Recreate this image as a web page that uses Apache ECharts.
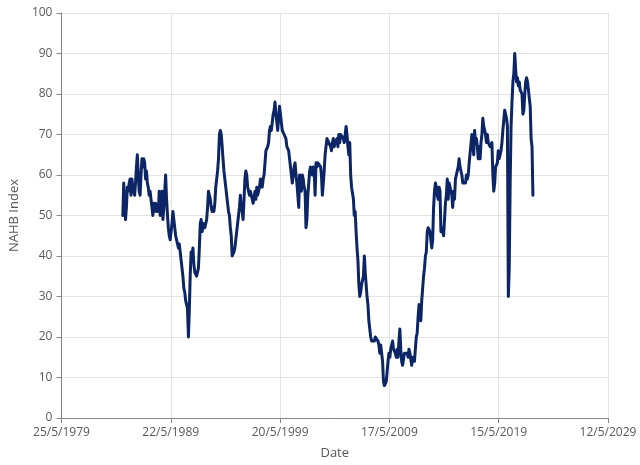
<!DOCTYPE html>
<html>
<head>
<meta charset="utf-8">
<script src="https://cdn.jsdelivr.net/npm/echarts@6/dist/echarts.min.js"></script>
<style>
html,body{margin:0;padding:0;background:#fff;}
#chart{width:640px;height:465px;}
</style>
</head>
<body>
<div id="chart"></div>
<script>
// Monthly NAHB index, starting January 1985
const firstYear = 1985;
const hmi1985to1994 = [
  50, 58, 53, 49, 52, 57, 56, 58, 59, 55, 59, 57,
  57, 55, 58, 62, 65, 60, 56, 55, 60, 64, 62, 64,
  63, 59, 61, 58, 57, 55, 56, 54, 52, 50, 53, 51,
  53, 51, 52, 51, 56, 50, 54, 56, 49, 52, 56, 60,
  54, 50, 47, 45, 44, 46, 48, 51, 49, 47, 45, 44,
  43, 42, 43, 41, 39, 37, 35, 32, 31, 29, 28, 27,
  20, 27, 35, 41, 40, 42, 38, 36, 36, 35, 36, 37,
  42, 48, 49, 46, 47, 48, 47, 48, 49, 52, 56, 55,
  54, 52, 51, 52, 51, 53, 57, 59, 61, 64, 70, 71,
  70, 67, 64, 61, 59, 57, 55, 53, 51, 50, 47, 45
];
const hmi1995to2004 = [
  40, 40, 41, 42, 44, 46, 48, 50, 52, 55, 52, 51,
  49, 54, 59, 61, 60, 57, 56, 55, 56, 55, 54, 53,
  53, 56, 54, 57, 55, 56, 57, 59, 58, 57, 59, 60,
  63, 66, 66, 67, 68, 71, 72, 71, 73, 75, 76, 78,
  75, 73, 71, 74, 77, 75, 73, 71, 71, 70, 70, 69,
  67, 67, 66, 64, 62, 60, 58, 60, 62, 63, 60, 58,
  55, 52, 60, 58, 56, 60, 59, 57, 56, 47, 49, 55,
  58, 61, 62, 61, 60, 62, 61, 55, 63, 62, 63, 63,
  63, 62, 60, 55, 58, 61, 65, 67, 69, 69, 68, 68,
  67, 66, 68, 69, 67, 68, 68, 69, 67, 70, 68, 70
];
const hmi2005to2014 = [
  70, 70, 69, 68, 70, 72, 70, 67, 65, 68, 60, 57,
  57, 54, 50, 51, 46, 42, 39, 33, 30, 31, 33, 33,
  35, 40, 36, 33, 30, 28, 24, 22, 20, 19, 19, 19,
  19, 20, 20, 20, 19, 18, 16, 18, 18, 14, 9, 8,
  8, 9, 9, 14, 16, 15, 17, 18, 19, 17, 17, 16,
  15, 17, 15, 19, 22, 17, 14, 13, 13, 16, 16, 16,
  16, 15, 17, 16, 16, 13, 15, 15, 14, 17, 20, 21,
  25, 28, 28, 24, 29, 29, 35, 37, 40, 41, 46, 47,
  47, 46, 44, 42, 44, 52, 56, 58, 57, 55, 54, 57,
  56, 46, 47, 46, 45, 49, 53, 55, 59, 54, 58, 57
];
const hmi2015to2022 = [
  57, 55, 52, 56, 54, 59, 60, 61, 62, 64, 62, 61,
  60, 58, 58, 58, 58, 60, 59, 60, 63, 63, 63, 70,
  67, 65, 71, 68, 69, 67, 64, 67, 64, 68, 70, 74,
  72, 71, 70, 68, 70, 68, 68, 67, 67, 68, 60, 56,
  58, 62, 62, 63, 66, 64, 65, 66, 68, 71, 71, 76,
  75, 74, 72, 30, 37, 58, 72, 78, 83, 85, 90, 86,
  83, 84, 82, 83, 81, 81, 80, 75, 76, 80, 83, 84,
  83, 81, 79, 77, 69, 67, 55
];
// x axis: Excel-style date axis, days counted from 25/5/1979, major unit 3650 days
const axisStart = Date.UTC(1979, 4, 25);
const axisSpanDays = 18250;
const axisStepDays = 3650;
const yTicks = [0, 100, 10]; // min, max, step

const values = [].concat(hmi1985to1994, hmi1995to2004, hmi2005to2014, hmi2015to2022);
const DAY = 86400000;
const points = values.map((v, i) => {
  const d = Date.UTC(firstYear + Math.floor(i / 12), i % 12, 1);
  return [(d - axisStart) / DAY, v];
});
function fmt(v) {
  const d = new Date(axisStart + Math.round(v) * DAY);
  return d.getUTCDate() + '/' + (d.getUTCMonth() + 1) + '/' + d.getUTCFullYear();
}

const FONT = 'Open Sans';
const TXT = '#595959';
const chart = echarts.init(document.getElementById('chart'), null, {renderer: 'canvas'});
chart.setOption({
  animation: false,
  grid: {left: 61, right: 32, top: 13, bottom: 46, containLabel: false},
  xAxis: {
    type: 'value', min: 0, max: axisSpanDays, interval: axisStepDays,
    name: 'Date', nameLocation: 'middle', nameGap: 29,
    nameTextStyle: {color: TXT, fontFamily: FONT, fontSize: 13},
    axisLine: {show: true, lineStyle: {color: '#868686', width: 1}},
    axisTick: {show: true, length: 5, lineStyle: {color: '#868686'}},
    axisLabel: {color: TXT, fontFamily: FONT, fontSize: 12, margin: 9, formatter: fmt},
    splitLine: {show: true, lineStyle: {color: '#e3e3e3', width: 1}}
  },
  yAxis: {
    type: 'value', min: yTicks[0], max: yTicks[1], interval: yTicks[2],
    name: 'NAHB Index', nameLocation: 'middle', nameGap: 40, nameRotate: 90,
    nameTextStyle: {color: TXT, fontFamily: FONT, fontSize: 13},
    axisLine: {show: true, lineStyle: {color: '#868686', width: 1}},
    axisTick: {show: true, length: 5, lineStyle: {color: '#868686'}},
    axisLabel: {color: TXT, fontFamily: FONT, fontSize: 12, margin: 9},
    splitLine: {show: true, lineStyle: {color: '#e3e3e3', width: 1}}
  },
  series: [{
    type: 'line', data: points, showSymbol: false, symbol: 'none',
    lineStyle: {color: '#0c2566', width: 3, join: 'round', cap: 'round'},
    itemStyle: {color: '#0c2566'}
  }]
});
</script>
</body>
</html>
